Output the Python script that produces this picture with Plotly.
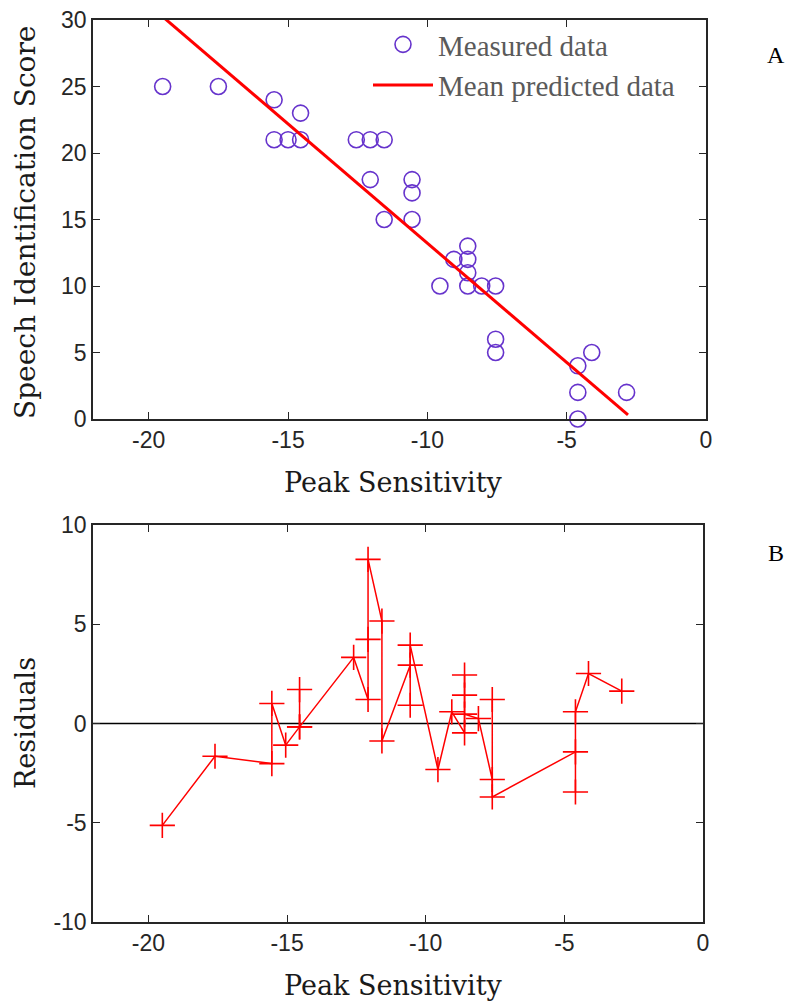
import plotly.graph_objects as go

# ---- Panel A: measured data ----
meas_x = [-19.5, -17.5, -15.5, -15.5, -15.0, -14.55, -14.55, -12.55, -12.05, -12.05,
          -11.55, -11.55, -10.55, -10.55, -10.55, -9.55, -9.05, -8.55, -8.55, -8.55,
          -8.55, -8.05, -7.55, -7.55, -7.55, -4.6, -4.6, -4.6, -4.1, -2.85]
meas_y = [25, 25, 24, 21, 21, 23, 21, 21, 21, 18,
          21, 15, 18, 17, 15, 10, 12, 13, 12, 11,
          10, 10, 10, 6, 5, 4, 2, 0, 5, 2]

# ---- Panel A: mean predicted line ----
fit_x = [-19.5, -2.8]
fit_y = [30.25, 0.31]

# ---- Panel B: residuals ----
res_x = [-19.5, -17.6, -15.55, -15.55, -15.05, -14.55, -14.55, -14.55, -12.6, -12.08,
         -12.08, -12.08, -11.58, -11.58, -10.56, -10.56, -10.56, -9.56, -9.06, -8.6,
         -8.6, -8.6, -8.6, -8.1, -7.6, -7.6, -7.6, -4.6, -4.6, -4.6,
         -4.13, -2.93]
res_y = [-5.13, -1.65, -2.02, 1.01, -1.09, -0.17, 1.71, -0.17, 3.33, 1.21,
         4.24, 8.27, 5.16, -0.88, 2.94, 0.92, 3.95, -2.32, 0.59, -0.47,
         2.44, 1.43, 0.47, 0.25, -2.82, 1.21, -3.7, -1.43, -3.45, 0.59,
         2.52, 1.63]

x_ticks = [-20, -15, -10, -5, 0]
x_ticktext = ["-20", "-15", "-10", "-5", "0"]
yA_ticks = [0, 5, 10, 15, 20, 25, 30]
yA_ticktext = ["0", "5", "10", "15", "20", "25", "30"]
yB_ticks = [-10, -5, 0, 5, 10]
yB_ticktext = ["-10", "-5", "0", "5", "10"]

OFF = 8  # default page body margin
W, H = 793 - OFF, 1005 - OFF
L, T = 93 - OFF, 20 - OFF
R = W - (706 - OFF)
B = H - (922 - OFF)
pw, ph = W - L - R, H - T - B

def px(xp):
    return (xp - OFF - L) / pw

def py(yp):
    return (H - B - (yp - OFF)) / ph

fig = go.Figure()
fig.add_trace(go.Scatter(
    x=meas_x, y=meas_y, mode="markers", name="Measured data",
    marker=dict(symbol="circle-open", size=16, color="#6633cc", line=dict(width=1.6, color="#6633cc")),
    cliponaxis=False, xaxis="x", yaxis="y", legendgroup="a"))
fig.add_trace(go.Scatter(
    x=fit_x, y=fit_y, mode="lines", name="Mean predicted data",
    line=dict(color="#ff0000", width=3), xaxis="x", yaxis="y", legendgroup="b"))
fig.add_trace(go.Scatter(
    x=res_x, y=res_y, mode="lines+markers", showlegend=False,
    line=dict(color="#ff0000", width=1.5),
    marker=dict(symbol="cross-thin-open", size=18, color="#ff0000", line=dict(width=1.6, color="#ff0000")),
    cliponaxis=False, xaxis="x2", yaxis="y2"))

tickfont = dict(family="Liberation Sans, Arial, sans-serif", size=23, color="#262626")
axcommon = dict(showline=True, linecolor="#262626", linewidth=1.5, mirror="ticks",
                ticks="inside", ticklen=7, tickwidth=1.2, tickcolor="#262626",
                showgrid=False, zeroline=False, tickfont=tickfont, automargin=False,
                ticklabeloverflow="allow")

fig.update_layout(
    width=W, height=H,
    margin=dict(l=L, r=R, t=T, b=B, autoexpand=False),
    paper_bgcolor="white", plot_bgcolor="white",
    xaxis=dict(domain=[0, 1], anchor="y", range=[-22, 0], tickvals=x_ticks, ticktext=x_ticktext, **axcommon),
    yaxis=dict(domain=[py(419), 1], anchor="x", range=[0, 30], tickvals=yA_ticks, ticktext=yA_ticktext, **axcommon),
    xaxis2=dict(domain=[0, px(703)], anchor="y2", range=[-22, 0], tickvals=x_ticks, ticktext=x_ticktext, **axcommon),
    yaxis2=dict(domain=[0, py(525)], anchor="x2", range=[-10, 10], tickvals=yB_ticks, ticktext=yB_ticktext, **axcommon),
    legend=dict(x=px(368), y=py(19), xanchor="left", yanchor="top",
                font=dict(family="Liberation Serif, Times New Roman, serif", size=29, color="#5a5a5a"),
                bgcolor="rgba(0,0,0,0)", itemwidth=60, traceorder="grouped", tracegroupgap=0),
    showlegend=True,
)
fig.add_shape(type="line", xref="x2", yref="y2", x0=-22, x1=0, y0=0, y1=0,
              line=dict(color="black", width=1.5), layer="below")

serif = "DejaVu Serif, serif"
labfont = dict(family=serif, size=27, color="#1a1a1a")
annots = [
    dict(text="Peak Sensitivity", x=px(393), y=py(482), font=labfont),
    dict(text="Peak Sensitivity", x=px(393), y=py(985), font=labfont),
    dict(text="Speech Identification Score", x=px(25), y=py(223), textangle=-90,
         font=dict(family=serif, size=28, color="#1a1a1a")),
    dict(text="Residuals", x=px(25), y=py(723), textangle=-90,
         font=dict(family=serif, size=27, color="#1a1a1a")),
    dict(text="A", x=px(776), y=py(55), font=dict(family="Liberation Serif, serif", size=24, color="black")),
    dict(text="B", x=px(776), y=py(553), font=dict(family="Liberation Serif, serif", size=24, color="black")),
]
for a in annots:
    fig.add_annotation(xref="paper", yref="paper", showarrow=False,
                       xanchor="center", yanchor="middle", **a)

fig.write_html("out.html")
